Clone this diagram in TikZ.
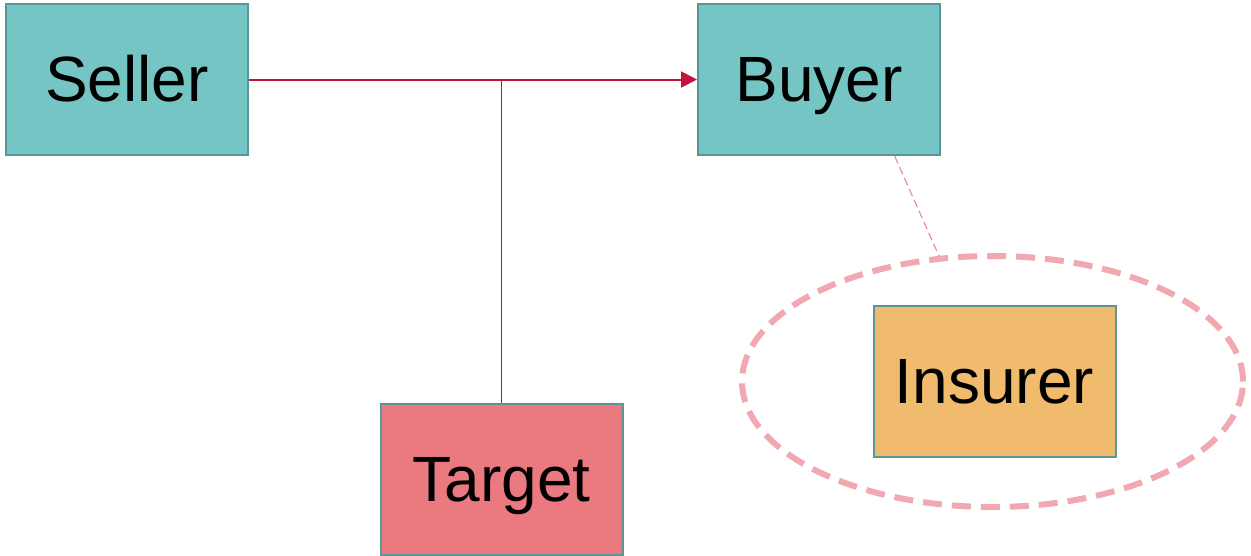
\documentclass[tikz,border=0pt]{standalone}
\usepackage{fontspec}
\setmainfont{Liberation Sans}
\usetikzlibrary{shapes.geometric,arrows.meta,calc}
\definecolor{tealfill}{HTML}{76C5C5}
\definecolor{tealborder}{HTML}{5A9696}
\definecolor{targetfill}{HTML}{EA7980}
\definecolor{insfill}{HTML}{F0BB6C}
\definecolor{crimson}{HTML}{C0143C}
\definecolor{pinkdash}{HTML}{F2A8B0}
\definecolor{pinkline}{HTML}{F08CA0}
\begin{document}
\begin{tikzpicture}[x=1pt,y=-1pt,
  box/.style={draw=tealborder,line width=2pt,minimum width=242pt,minimum height=151pt,inner sep=0pt,font=\fontsize{64}{70}\selectfont,text=black,text height=57.9pt,text depth=13.6pt},
  party/.style={box,fill=tealfill},
  targetbox/.style={box,fill=targetfill},
  insbox/.style={box,fill=insfill},
  ringstyle/.style={draw=pinkdash,line width=6pt,dash pattern=on 19pt off 10pt,ellipse,minimum width=501pt,minimum height=251pt,inner sep=0pt},
  mainarrow/.style={draw=crimson,line width=2pt,-{Triangle[length=16pt,width=16pt]}},
  stem/.style={draw=crimson,line width=1.5pt},
  link/.style={draw=pinkline,line width=1.2pt,dash pattern=on 8pt off 4pt}
]
\useasboundingbox (0,0) rectangle (1251,555);
\node[party] (seller) at (127,79.5) {Seller};
\node[party] (buyer) at (819,79.5) {Buyer};
\node[targetbox] (target) at (501.5,479.5) {Target};
\node[ringstyle] (ring) at (992.5,381.5) {};
\node[insbox] (insurer) at (994.5,381) {Insurer};
\draw[mainarrow] (seller.east) -- (buyer.west);
\coordinate (junction) at (target.north |- seller.east);
\draw[stem] (junction) -- (target.north);
\coordinate (buyerfoot) at ($(buyer.south west)!0.81!(buyer.south east)$);
\coordinate (ringtop) at (939,256);
\draw[link] (buyerfoot) -- (ringtop);
\end{tikzpicture}
\end{document}
